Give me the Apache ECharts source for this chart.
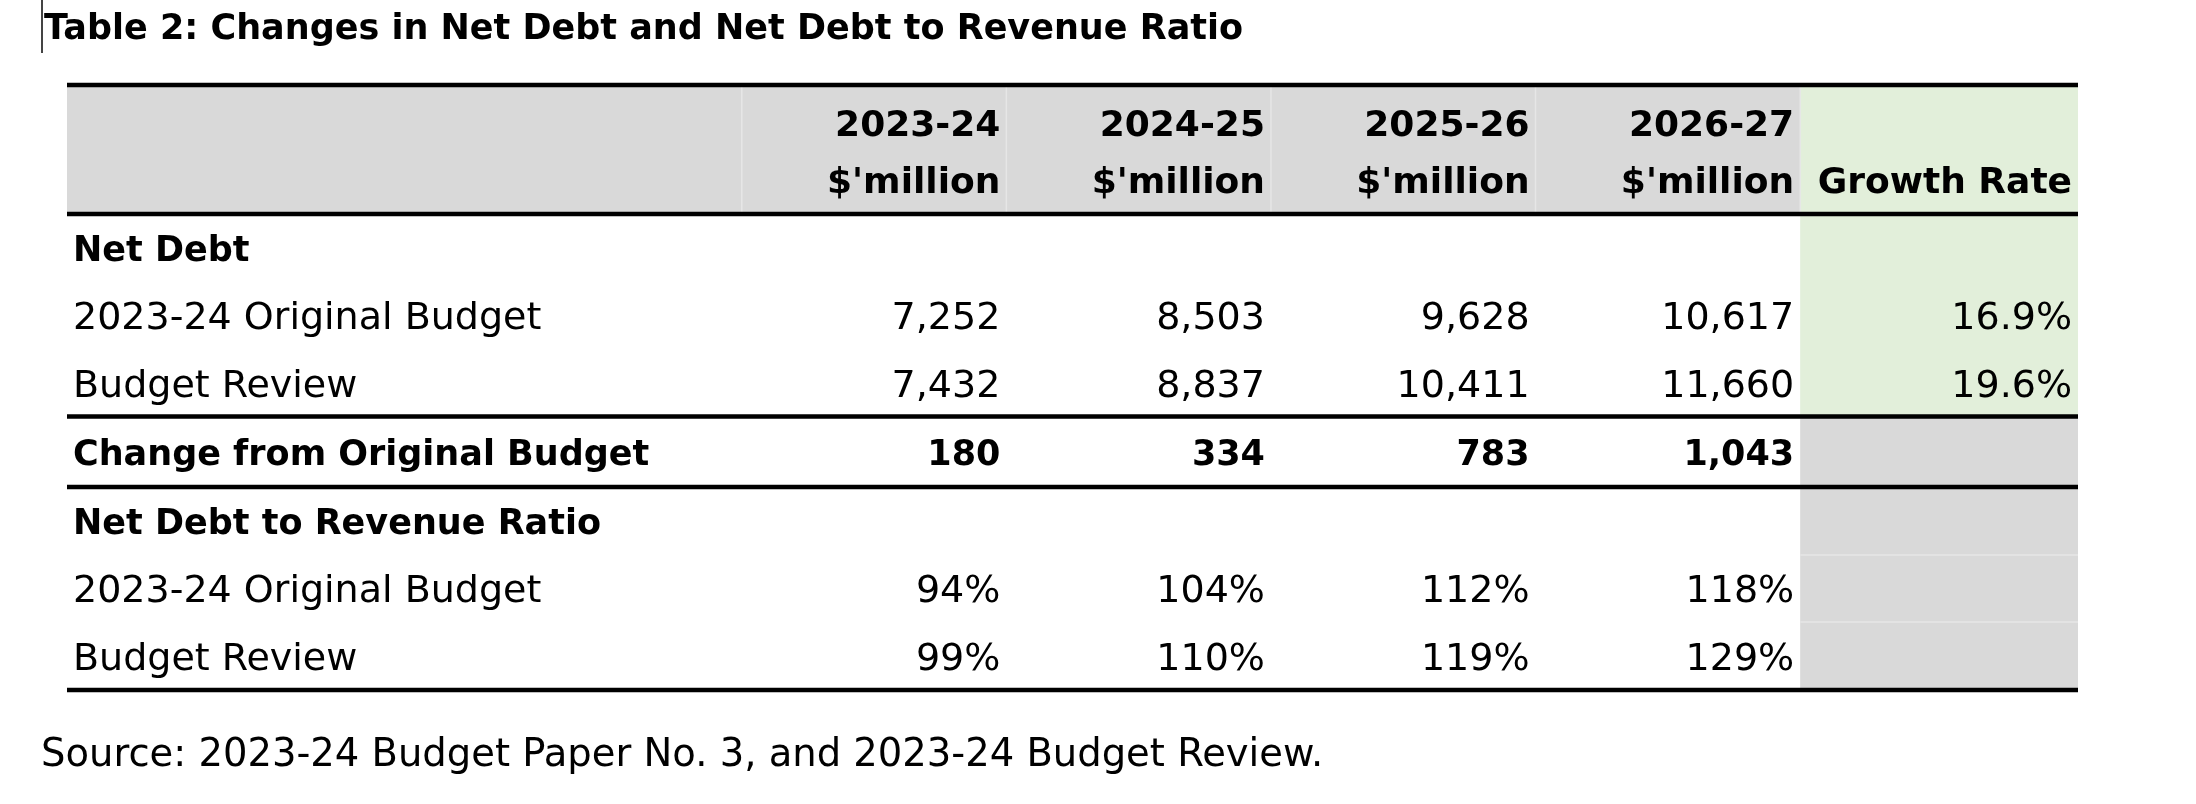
<!DOCTYPE html>
<html>
<head>
<meta charset="utf-8">
<script src="https://cdn.jsdelivr.net/npm/echarts@6/dist/echarts.min.js"></script>
<style>
html, body { margin: 0; padding: 0; background: #fff; }
#table2 { width: 2196px; height: 804px; }
</style>
</head>
<body>
<div id="table2"></div>
<script>
var years = ['2023-24', '2024-25', '2025-26', '2026-27'];
var netDebtOriginal = [7252, 8503, 9628, 10617];
var netDebtReview = [7432, 8837, 10411, 11660];
var changeFromOriginal = [180, 334, 783, 1043];
var ratioOriginal = [94, 104, 112, 118];
var ratioReview = [99, 110, 119, 129];
var growthRate = [16.9, 19.6];

// table grid in axis units (columns: label, 4 years, growth; rows: header + 7)
var colEdges = [0, 2.55, 3.55, 4.55, 5.55, 6.55, 7.6];
var rowEdges = [0, 1.92, 2.93, 3.93, 4.93, 5.98, 6.99, 7.99, 9];

var FONT = "'DejaVu Sans', 'Noto Sans', sans-serif";

function fmt(v) { return v.toLocaleString('en-US'); }
function pct(v) { return v + '%'; }

var cells = [];
function cell(col, row, text, bold) {
    cells.push({ col: col, row: row, text: text, bold: bold });
}

years.forEach(function (y, i) { cell(i + 1, 0, y + "\n$'million", true); });
cell(5, 0, '\nGrowth Rate', true);

cell(0, 1, 'Net Debt', true);
cell(0, 2, '2023-24 Original Budget', false);
cell(0, 3, 'Budget Review', false);
cell(0, 4, 'Change from Original Budget', true);
cell(0, 5, 'Net Debt to Revenue Ratio', true);
cell(0, 6, '2023-24 Original Budget', false);
cell(0, 7, 'Budget Review', false);

years.forEach(function (y, i) {
    cell(i + 1, 2, fmt(netDebtOriginal[i]), false);
    cell(i + 1, 3, fmt(netDebtReview[i]), false);
    cell(i + 1, 4, fmt(changeFromOriginal[i]), true);
    cell(i + 1, 6, pct(ratioOriginal[i]), false);
    cell(i + 1, 7, pct(ratioReview[i]), false);
});
cell(5, 2, growthRate[0].toFixed(1) + '%', false);
cell(5, 3, growthRate[1].toFixed(1) + '%', false);

// shaded blocks: [col from, col to, row from, row to, colour]
var fills = [
    [0, 5, 0, 1, '#d9d9d9'],
    [5, 6, 0, 4, '#e2efda'],
    [5, 6, 4, 8, '#d9d9d9']
];
// thick rules under these row edges
var rules = [0, 1, 4, 5, 8];
// faint cell borders: [col from, col to, row from, row to]
var hairlines = [
    [1, 1, 0, 1], [2, 2, 0, 1], [3, 3, 0, 1], [4, 4, 0, 1], [5, 5, 0, 1],
    [5, 6, 6, 6], [5, 6, 7, 7]
];

var chart = echarts.init(document.getElementById('table2'));

var option = {
    animation: false,
    backgroundColor: '#fff',
    title: [{
        text: 'Table 2: Changes in Net Debt and Net Debt to Revenue Ratio',
        left: 44,
        top: 10,
        padding: 0,
        textStyle: { fontFamily: FONT, fontSize: 35, fontWeight: 'bold', color: '#000', lineHeight: 40 }
    }, {
        text: 'Source: 2023-24 Budget Paper No. 3, and 2023-24 Budget Review.',
        left: 41,
        top: 736,
        padding: 0,
        textStyle: { fontFamily: FONT, fontSize: 38.5, fontWeight: 'normal', color: '#000', lineHeight: 40 }
    }],
    graphic: [{
        type: 'line',
        shape: { x1: 42, y1: 0, x2: 42, y2: 53 },
        style: { stroke: '#444', lineWidth: 2 }
    }],
    grid: { left: 67, right: 118, top: 85, bottom: 114 },
    xAxis: { type: 'value', min: 0, max: colEdges[colEdges.length - 1], show: false },
    yAxis: { type: 'value', min: 0, max: rowEdges[rowEdges.length - 1], inverse: true, show: false },
    series: [
        {
            type: 'custom',
            silent: true,
            clip: false,
            data: fills.map(function (f) { return [colEdges[f[0]], rowEdges[f[2]]]; }),
            renderItem: function (params, api) {
                var f = fills[params.dataIndex];
                var p0 = api.coord([colEdges[f[0]], rowEdges[f[2]]]);
                var p1 = api.coord([colEdges[f[1]], rowEdges[f[3]]]);
                return {
                    type: 'rect',
                    shape: { x: p0[0], y: p0[1], width: p1[0] - p0[0], height: p1[1] - p0[1] },
                    style: { fill: f[4] }
                };
            }
        },
        {
            type: 'custom',
            silent: true,
            clip: false,
            data: hairlines.map(function (h) { return [colEdges[h[0]], rowEdges[h[2]]]; }),
            renderItem: function (params, api) {
                var h = hairlines[params.dataIndex];
                var p0 = api.coord([colEdges[h[0]], rowEdges[h[2]]]);
                var p1 = api.coord([colEdges[h[1]], rowEdges[h[3]]]);
                return {
                    type: 'line',
                    shape: { x1: p0[0], y1: p0[1], x2: p1[0], y2: p1[1] },
                    style: { stroke: '#e6e6e6', lineWidth: 1.5 }
                };
            }
        },
        {
            type: 'custom',
            silent: true,
            clip: false,
            data: rules.map(function (r) { return [0, rowEdges[r]]; }),
            renderItem: function (params, api) {
                var r = rowEdges[rules[params.dataIndex]];
                var p0 = api.coord([colEdges[0], r]);
                var p1 = api.coord([colEdges[colEdges.length - 1], r]);
                return {
                    type: 'line',
                    shape: { x1: p0[0], y1: p0[1], x2: p1[0], y2: p1[1] },
                    style: { stroke: '#000', lineWidth: 4.5 }
                };
            }
        },
        {
            type: 'custom',
            silent: true,
            clip: false,
            data: cells.map(function (c) { return [colEdges[c.col], rowEdges[c.row]]; }),
            renderItem: function (params, api) {
                var c = cells[params.dataIndex];
                var left = c.col === 0;
                var x = left
                    ? api.coord([colEdges[c.col], 0])[0] + 6
                    : api.coord([colEdges[c.col + 1], 0])[0] - 6;
                var yTop = api.coord([0, rowEdges[c.row]])[1];
                var yBot = api.coord([0, rowEdges[c.row + 1]])[1];
                var y = (yTop + yBot) / 2 + 4;
                if (c.row === 0) y = yBot - 59;
                return {
                    type: 'text',
                    style: {
                        x: x,
                        y: y,
                        text: c.text,
                        fill: '#000',
                        fontFamily: FONT,
                        fontSize: c.row === 0 ? 36 : (c.bold ? 35 : 38),
                        fontWeight: c.bold ? 'bold' : 'normal',
                        lineHeight: 57,
                        align: left ? 'left' : 'right',
                        verticalAlign: 'middle'
                    }
                };
            }
        }
    ]
};

chart.setOption(option);
</script>
</body>
</html>
